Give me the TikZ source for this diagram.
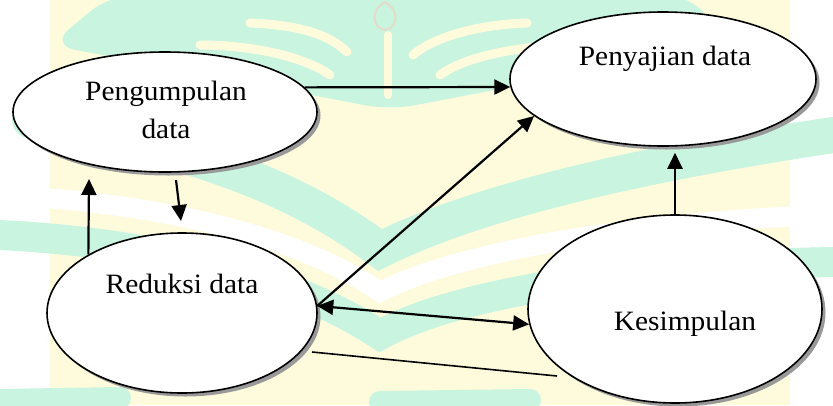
\documentclass[tikz,border=0pt]{standalone}
\usepackage{fontspec}
\setmainfont{Liberation Serif}[FakeStretch=1.05]
\usetikzlibrary{arrows.meta,shapes.geometric,shadows}
\definecolor{wmg}{HTML}{C8F4E0}
\definecolor{wmy}{HTML}{FDFBDC}
\definecolor{wmb}{HTML}{E2DCC8}
\tikzset{
  bubble/.style={ellipse, draw=black, line width=1.6, fill=white, inner sep=0pt,
    drop shadow={shadow xshift=3.5pt, shadow yshift=-3.5pt, fill=gray!80, opacity=1}},
  lbl/.style={anchor=base, inner sep=0pt, font=\fontsize{28}{38}\selectfont, align=center},
  arr/.style={line width=2.2, -{Triangle[length=16pt,width=15pt]}},
  darr/.style={line width=2.2, {Triangle[length=16pt,width=15pt]}-{Triangle[length=16pt,width=15pt]}},
  plain/.style={line width=1.6},
  band/.style={line width=#1, line cap=round}
}
\begin{document}
\begin{tikzpicture}[x=1pt,y=-1pt]
\useasboundingbox (0,0) rectangle (833,405);
% watermark background
\fill[white] (0,0) rectangle (833,405);
\fill[wmy] (50,0) rectangle (790,405);
\fill[wmg, rounded corners=25] (110,-5) -- (690,-5) -- (730,45) -- (390,110) -- (50,45) -- cycle;
\draw[wmy, band=9] (250,23) .. controls (300,25) and (330,35) .. (347,52);
\draw[wmy, band=9] (200,45) .. controls (260,45) and (310,60) .. (330,75);
\draw[wmy, band=9] (527,23) .. controls (470,25) and (430,40) .. (413,55);
\draw[wmy, band=9] (580,45) .. controls (510,45) and (460,60) .. (440,75);
\draw[wmy, band=8] (388,35) -- (388,95);
\draw[wmb, line width=2] (385,2) .. controls (370,10) and (372,28) .. (385,30) .. controls (398,28) and (400,10) .. (385,2);
\draw[wmg, band=36] (30,120) .. controls (200,150) and (300,190) .. (380,250) .. controls (460,210) and (600,170) .. (833,135);
\draw[white, band=20] (0,195) .. controls (200,205) and (320,250) .. (380,292) .. controls (460,250) and (650,220) .. (833,215);
\draw[wmg, band=30] (0,235) .. controls (200,245) and (320,295) .. (380,335) .. controls (460,290) and (650,265) .. (833,262);
\draw[wmg, band=22] (0,400) -- (120,398);
\draw[wmg, band=22] (380,402) -- (530,400);
% ellipses
\node[bubble, minimum width=304, minimum height=120] (peng) at (165,112) {};
\node[bubble, minimum width=306, minimum height=134] (peny) at (663,79) {};
\node[bubble, minimum width=270, minimum height=160] (red) at (182,313) {};
\node[bubble, minimum width=294, minimum height=188] (kes) at (675,309) {};
% texts
\node[lbl] (tpeng) at (166,138) {Pengumpulan\\data};
\node[lbl] (tpeny) at (665,65) {Penyajian data};
\node[lbl] (tred) at (182,293) {Reduksi data};
\node[lbl] (tkes) at (685,330) {Kesimpulan};
% free ends
\coordinate (up1) at (89,179);
\coordinate (dn0) at (176,180);
\coordinate (dn1) at (181,221);
\coordinate (l1) at (312,352);
\coordinate (l2) at (557,376);
% connectors
\draw[arr] (peng.10) -- (peny.183);
\draw[arr] (red.3) -- (peny.196);
\draw[darr] (red.3) -- (kes.186);
\draw[plain] (l1) -- (l2);
\draw[arr, shorten >=6pt] (kes.north) -- (kes.north |- peny.south);
\draw[arr] (red.148) -- (up1);
\draw[arr] (dn0) -- (dn1);
\end{tikzpicture}
\end{document}
